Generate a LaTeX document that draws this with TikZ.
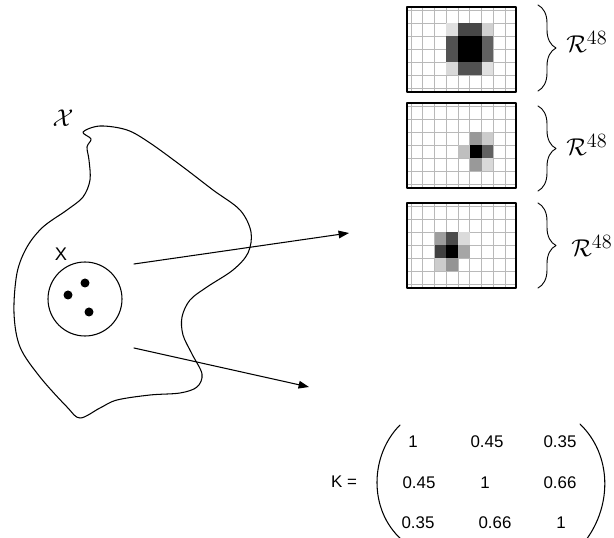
\documentclass[tikz,border=0pt]{standalone}
\usepackage{fontspec}
\setmainfont{Liberation Sans}
\usetikzlibrary{arrows.meta,decorations.pathreplacing}
\definecolor{gridgray}{RGB}{185,185,185}

\tikzset{
 pixbox/.style={draw=black,line width=0.8pt},
 pixgrid/.style={draw=gridgray,line width=0.45pt},
 featbrace/.style={decorate,decoration={brace,amplitude=0.45cm,aspect=0.5},line width=0.65pt},
 featarrow/.style={-{Triangle[length=2.6mm,width=1.9mm]},line width=0.75pt},
 entry/.style={font=\fontsize{12}{14}\selectfont,inner sep=0pt},
 spacelabel/.style={anchor=base west,inner sep=0pt,font=\fontsize{19}{22}\selectfont},
}

\begin{document}
\begin{tikzpicture}[x=0.025cm,y=-0.025cm,line cap=round,line join=round]
 \useasboundingbox (0,0) rectangle (614,538);
 % input space
 \draw[line width=0.75pt] plot[smooth cycle,tension=0.55] coordinates {
  (83,132) (100,126) (127,130) (150,143) (183,167) (213,190) (240,210)
  (251,232) (248,253) (233,270) (207,287) (190,300) (182,317) (183,335)
  (192,354) (202,374) (197,387) (180,393) (150,395) (117,400) (100,408)
  (80,418) (67,407) (40,377) (20,347) (14,313) (17,273) (27,247) (43,227)
  (67,210) (83,197) (90,180) (89,160) (87,147) (91,139)};
 \node (chi) [font=\fontsize{19}{22}\selectfont] at (63,118) {$\mathcal{X}$};
 \node (xlab) [font=\fontsize{13}{15}\selectfont] at (61,254) {X};
 \draw[line width=0.75pt] (85,299) circle (37);
 \foreach \px/\py in {85/283,68/295,89/312}
  \fill (\px,\py) circle (4.5);
 % feature maps
 \coordinate (up0) at (134,264);
 \coordinate (up1) at (349,233);
 \coordinate (lo0) at (134,348);
 \coordinate (lo1) at (309,387);
 \draw[featarrow] (up0) -- (up1);
 \draw[featarrow] (lo0) -- (lo1);
 % the three 8x6 images
 \foreach \t in {7,103,203} {
  \foreach \c in {0,...,8}
   \draw[pixgrid] ({411+11.75*\c},\t) -- ++(0,85);
  \foreach \r in {0,...,6}
   \draw[pixgrid] (407,{\t+3+13*\r}) -- ++(109,0);
 }
 \foreach \c/\r/\s in {4/2/100,5/2/100,4/3/100,5/3/100,4/1/72,5/1/72,
   4/4/68,5/4/68,3/2/68,3/3/68,6/2/62,6/3/62,3/1/12,6/1/18,3/4/15,6/4/12}
  \fill[black!\s] ({411+11.75*\c},{10+13*\r}) rectangle ++(11.75,13);
 \foreach \c/\r/\s in {5/3/100,5/2/40,6/2/20,6/3/62,4/3/25,5/4/40,6/4/15}
  \fill[black!\s] ({411+11.75*\c},{106+13*\r}) rectangle ++(11.75,13);
 \foreach \c/\r/\s in {3/3/100,2/3/75,3/2/70,2/2/38,4/2/14,4/3/35,2/4/20,3/4/42}
  \fill[black!\s] ({411+11.75*\c},{206+13*\r}) rectangle ++(11.75,13);
 \foreach \t in {7,103,203}
  \draw[pixbox] (407,\t) rectangle ++(109,85);
 % braces
 \draw[featbrace] (538,5) -- (538,91);
 \draw[featbrace] (538,106) -- (538,191);
 \draw[featbrace] (538,203) -- (538,288);
 \node (r1) [spacelabel] at (566,53) {$\mathcal{R}^{48}$};
 \node (r2) [spacelabel] at (566,156) {$\mathcal{R}^{48}$};
 \node (r3) [spacelabel] at (571,257) {$\mathcal{R}^{48}$};
 % kernel matrix
 \node (keq) [entry] at (344,482) {K =};
 \draw[line width=0.75pt] (400,425) .. controls (370,455) and (368,510) .. (402,540);
 \draw[line width=0.75pt] (580,424) .. controls (612,455) and (612,505) .. (586,540);
 \node (m11) [entry] at (413,442) {1};
 \node (m12) [entry] at (487,442) {0.45};
 \node (m13) [entry] at (560,442) {0.35};
 \node (m21) [entry] at (419,483) {0.45};
 \node (m22) [entry] at (485,483) {1};
 \node (m23) [entry] at (560,483) {0.66};
 \node (m31) [entry] at (418,523) {0.35};
 \node (m32) [entry] at (495,523) {0.66};
 \node (m33) [entry] at (561,523) {1};
\end{tikzpicture}
\end{document}
